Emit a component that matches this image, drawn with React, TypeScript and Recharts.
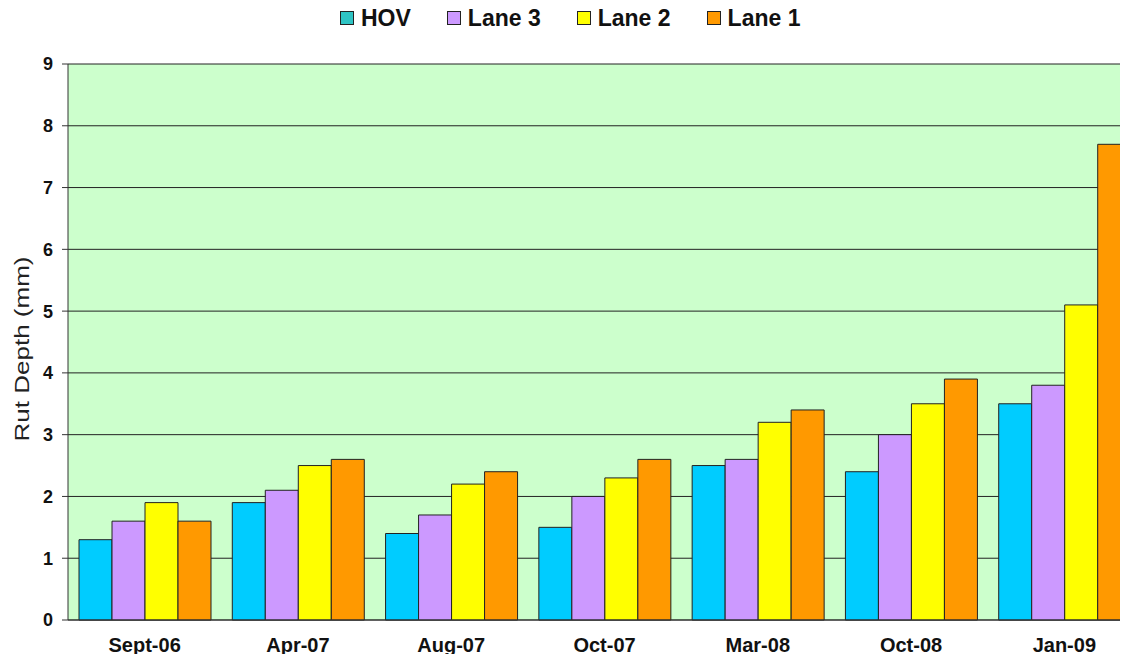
import React from "react";
import { BarChart, Bar, XAxis, YAxis, CartesianGrid, Legend } from "recharts";

const categories = ["Sept-06", "Apr-07", "Aug-07", "Oct-07", "Mar-08", "Oct-08", "Jan-09"];
const hov = [1.3, 1.9, 1.4, 1.5, 2.5, 2.4, 3.5];
const lane3 = [1.6, 2.1, 1.7, 2.0, 2.6, 3.0, 3.8];
const lane2 = [1.9, 2.5, 2.2, 2.3, 3.2, 3.5, 5.1];
const lane1 = [1.6, 2.6, 2.4, 2.6, 3.4, 3.9, 7.7];
const yTicks = [0, 1, 2, 3, 4, 5, 6, 7, 8, 9];

const series = [
  { key: "hov", name: "HOV", fill: "#00CCFF", swatch: "#2EC4C4" },
  { key: "lane3", name: "Lane 3", fill: "#CC99FF", swatch: "#CC99FF" },
  { key: "lane2", name: "Lane 2", fill: "#FFFF00", swatch: "#FFFF00" },
  { key: "lane1", name: "Lane 1", fill: "#FF9900", swatch: "#FF9900" },
];

const data = categories.map((c, i) => ({
  name: c,
  hov: hov[i],
  lane3: lane3[i],
  lane2: lane2[i],
  lane1: lane1[i],
}));

const FONT = "'Liberation Sans', Arial, sans-serif";

const LegendContent = () => (
  <div style={{ display: "flex", justifyContent: "flex-start", paddingLeft: 340, fontFamily: FONT }}>
    {series.map((s, i) => (
      <div key={s.key} style={{ display: "flex", alignItems: "center", marginRight: i < 3 ? 36 : 0 }}>
        <span
          style={{
            display: "inline-block",
            width: 12,
            height: 12,
            background: s.swatch,
            border: "1px solid #222",
            marginRight: 7,
          }}
        />
        <span style={{ fontSize: 23, fontWeight: 700, color: "#111", lineHeight: "24px" }}>{s.name}</span>
      </div>
    ))}
  </div>
);

const YLabel = (props: any) => {
  const vb = props.viewBox || {};
  const cy = vb.y + vb.height / 2 + 7;
  return (
    <text
      x={0}
      y={0}
      transform={`translate(29, ${cy}) rotate(-90) scale(1.3, 1)`}
      textAnchor="middle"
      fontFamily={FONT}
      fontSize={20}
      fill="#222"
    >
      Rut Depth (mm)
    </text>
  );
};

export default function App() {
  return (
    <div style={{ margin: -8, width: 1128, height: 662, overflow: "hidden", position: "relative", background: "#fff" }}>
      <BarChart
        width={1141}
        height={662}
        data={data}
        margin={{ top: 64, right: 0, bottom: 12, left: 0 }}
        barGap={0}
        barCategoryGap={11}
      >
        <CartesianGrid vertical={false} stroke="#222" fill="#CCFFCC" fillOpacity={1} />
        <XAxis
          dataKey="name"
          axisLine={{ stroke: "#333" }}
          tickLine={false}
          height={30}
          tickMargin={12}
          tick={{ fontFamily: FONT, fontSize: 20, fontWeight: 700, fill: "#111" }}
          interval={0}
        />
        <YAxis
          domain={[0, 9]}
          ticks={yTicks}
          width={68}
          axisLine={{ stroke: "#333" }}
          tickLine={{ stroke: "#333" }}
          tickSize={6}
          tickMargin={9}
          tick={{ fontFamily: FONT, fontSize: 18, fontWeight: 700, fill: "#111" }}
          label={<YLabel />}
        />
        <Legend
          verticalAlign="middle"
          align="center"
          layout="horizontal"
          content={<LegendContent />}
          wrapperStyle={{ top: 6, left: 0, width: 1128 }}
        />
        {series.map((s) => (
          <Bar
            key={s.key}
            dataKey={s.key}
            name={s.name}
            fill={s.fill}
            stroke="#222"
            strokeWidth={1}
            isAnimationActive={false}
          />
        ))}
      </BarChart>
    </div>
  );
}
